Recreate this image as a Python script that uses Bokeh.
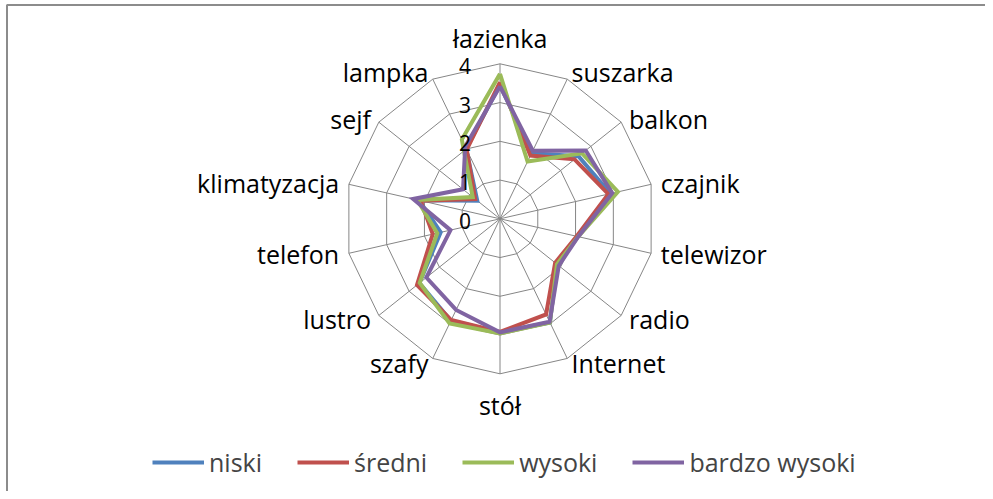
import numpy as np
from bokeh.plotting import figure
from bokeh.models import Range1d, Legend, LegendItem, ColumnDataSource
from bokeh.core.properties import value
from bokeh.embed import file_html
from bokeh.resources import INLINE

categories = ["łazienka", "suszarka", "balkon", "czajnik", "telewizor", "radio",
              "Internet", "stół", "szafy", "lustro", "telefon", "klimatyzacja",
              "sejf", "lampka"]
niski = [3.45, 1.88, 2.59, 2.92, 2.05, 1.88, 2.97, 2.93, 2.92, 2.66, 1.57, 2.14, 0.75, 2.02]
sredni = [3.53, 1.81, 2.46, 2.87, 2.03, 1.82, 2.74, 2.92, 2.90, 2.74, 1.78, 2.10, 0.82, 1.98]
wysoki = [3.74, 1.64, 2.71, 3.12, 2.07, 1.88, 2.97, 2.96, 3.00, 2.65, 1.66, 2.19, 0.90, 2.27]
bardzo_wysoki = [3.42, 1.95, 2.83, 2.97, 2.07, 1.94, 2.95, 2.93, 2.61, 2.43, 1.31, 2.30, 1.22, 2.07]
series_names = ["niski", "średni", "wysoki", "bardzo wysoki"]
series_values = [niski, sredni, wysoki, bardzo_wysoki]
colors = ["#4F81BD", "#C0504D", "#9BBB59", "#8064A2"]
ring_values = [1, 2, 3, 4]
tick_values = [0, 1, 2, 3, 4]
tick_labels = ["0", "1", "2", "3", "4"]

FONT = "Open Sans"
W, H = 985, 491
PX = 38.75              # pixels per value unit
CX, CY = 499.5, 218.3   # centre of the radar in figure pixels (from top-left)
RMAX = 4

p = figure(width=W, height=H,
           x_range=Range1d(-CX / PX, (W - CX) / PX),
           y_range=Range1d(-(H - CY) / PX, CY / PX),
           x_axis_type=None, y_axis_type=None,
           output_backend="svg", toolbar_location=None,
           min_border=0, outline_line_color=None,
           background_fill_color="white", border_fill_color="white")
p.grid.visible = False

n = len(categories)
theta = 2 * np.pi * np.arange(n) / n
s, c = np.sin(theta), np.cos(theta)

# frame (top and left edges of the chart area)
x0, x1 = p.x_range.start, p.x_range.end
y0, y1 = p.y_range.start, p.y_range.end
fx, fy = x0 + 6.5 / PX, y1 - 4.5 / PX
p.line([fx, fx, x1], [y0, fy, fy], line_color="#8c8c8c", line_width=2)

# grid rings
ring_xs = [list(np.append(r * s, r * s[0])) for r in ring_values]
ring_ys = [list(np.append(r * c, r * c[0])) for r in ring_values]
p.multi_line(ring_xs, ring_ys, line_color="#868686", line_width=1)
# spokes
p.multi_line([[0, RMAX * si] for si in s], [[0, RMAX * ci] for ci in c],
             line_color="#868686", line_width=1)

# series
renderers = []
for name, vals, col in zip(series_names, series_values, colors):
    v = np.array(vals)
    xs = np.append(v * s, v[0] * s[0])
    ys = np.append(v * c, v[0] * c[0])
    r = p.line(xs, ys, line_color=col, line_width=4, line_join="miter")
    renderers.append(r)

# value tick labels along the first axis
p.text(x=[-29 / PX] * len(tick_values), y=[t - 2 / PX for t in tick_values],
       text=tick_labels, text_align="right", text_baseline="middle",
       text_font=value(FONT), text_font_size="21px", text_color="black")

# category labels
lx, ly, la, lb = [], [], [], []
for k in range(n):
    vx, vy = RMAX * s[k], RMAX * c[k]
    if abs(s[k]) < 0.1:
        lx.append(vx)
        la.append("center")
        if c[k] > 0:
            ly.append(vy + 9 / PX)
            lb.append("bottom")
        else:
            ly.append(vy - 14 / PX)
            lb.append("top")
    else:
        gap = 10 * abs(s[k])
        lx.append(vx + np.sign(s[k]) * gap / PX)
        la.append("left" if s[k] > 0 else "right")
        extra = 2.5 if c[k] > 0.8 else 0.0
        ly.append(vy + (c[k] * 5 + extra) / PX)
        lb.append("middle")
src = ColumnDataSource(dict(x=lx, y=ly, t=categories, a=la, b=lb))
p.text(x="x", y="y", text="t", text_align="a", text_baseline="b", source=src,
       text_font=value(FONT), text_font_size="25px", text_color="black")

legend = Legend(items=[LegendItem(label=nm, renderers=[r]) for nm, r in zip(series_names, renderers)],
                orientation="horizontal", location=(152, 12),
                label_text_font=FONT, label_text_font_size="25px",
                glyph_width=52, glyph_height=34, label_height=34,
                label_standoff=5, spacing=35, padding=0, margin=0,
                border_line_color=None, background_fill_alpha=0)
p.add_layout(legend, "center")

open("out.html", "w").write(file_html(p, INLINE))
